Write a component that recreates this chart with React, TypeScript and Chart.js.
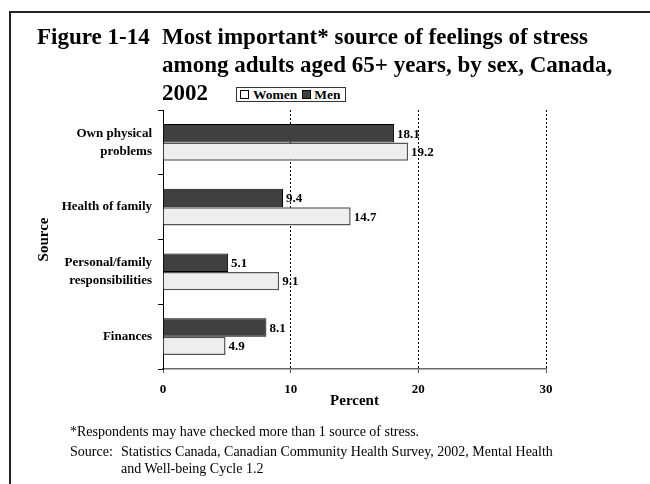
import React, { useEffect, useRef } from "react";
import { Chart, registerables } from "chart.js";

Chart.register(...registerables);

const categories: string[][] = [
  ["Own physical", "problems"],
  ["Health of family"],
  ["Personal/family", "responsibilities"],
  ["Finances"],
];
const menValues = [18.1, 9.4, 5.1, 8.1];
const womenValues = [19.2, 14.7, 9.1, 4.9];
const xMin = 0;
const xMax = 30;
const xStep = 10;

const SERIF = '"Liberation Serif", "Times New Roman", serif';

const valueLabels = {
  id: "valueLabels",
  afterDatasetsDraw(chart: any) {
    const ctx = chart.ctx;
    ctx.save();
    ctx.font = `bold 13px ${SERIF}`;
    ctx.fillStyle = "#000";
    ctx.textBaseline = "middle";
    ctx.textAlign = "left";
    chart.data.datasets.forEach((ds: any, di: number) => {
      chart.getDatasetMeta(di).data.forEach((bar: any, i: number) => {
        ctx.fillText(Number(ds.data[i]).toFixed(1), bar.x + 3, bar.y + 1);
      });
    });
    ctx.restore();
  },
};

function ChartCanvas() {
  const ref = useRef<HTMLCanvasElement | null>(null);
  useEffect(() => {
    if (!ref.current) return;
    const chart = new Chart(ref.current, {
      type: "bar",
      data: {
        labels: categories,
        datasets: [
          {
            label: "Men",
            data: menValues,
            backgroundColor: "#404040",
            borderColor: "#000000",
            borderWidth: 1,
            categoryPercentage: 0.57,
            barPercentage: 1.0,
          },
          {
            label: "Women",
            data: womenValues,
            backgroundColor: "#eeeeee",
            borderColor: "#555555",
            borderWidth: 1.5,
            categoryPercentage: 0.57,
            barPercentage: 1.0,
          },
        ],
      },
      options: {
        indexAxis: "y",
        responsive: false,
        animation: false,
        devicePixelRatio: 1,
        layout: { padding: { left: 0, top: 110, right: 104, bottom: 73 } },
        plugins: {
          legend: { display: false },
          tooltip: { enabled: false },
          title: { display: false },
        },
        scales: {
          x: {
            type: "linear",
            min: xMin,
            max: xMax,
            ticks: {
              stepSize: xStep,
              color: "#000",
              padding: 9,
              font: { family: SERIF, size: 13, weight: "bold" },
            },
            grid: {
              color: (c: any) => (c.tick && c.tick.value === 0 ? "rgba(0,0,0,0)" : "#000"),
              tickColor: "#555",
              tickLength: 4,
              lineWidth: 1,
            },
            border: { color: "#6a6a6a", width: 1.5, dash: [2, 2] },
            title: {
              display: true,
              text: "Percent",
              color: "#000",
              font: { family: SERIF, size: 15, weight: "bold" },
              padding: { top: 0, bottom: 1 },
            },
            afterFit: (s: any) => {
              s.height = 42;
            },
          },
          y: {
            type: "category",
            ticks: {
              color: "#000",
              padding: 6,
              font: { family: SERIF, size: 13, weight: "bold", lineHeight: 1.36 },
            },
            grid: {
              offset: true,
              drawOnChartArea: false,
              tickLength: 5,
              color: "#000",
              tickColor: "#000",
            },
            border: { color: "#000", width: 1 },
            title: {
              display: true,
              text: "Source",
              color: "#000",
              font: { family: SERIF, size: 15, weight: "bold" },
              padding: { top: 35, bottom: 0 },
            },
            afterFit: (s: any) => {
              s.width = 163;
            },
          },
        },
      },
      plugins: [valueLabels],
    } as any);
    return () => chart.destroy();
  }, []);
  return <canvas ref={ref} width={650} height={484} style={{ display: "block", width: 650, height: 484 }} />;
}

const abs = (o: React.CSSProperties): React.CSSProperties => ({ position: "absolute", whiteSpace: "nowrap", ...o });

export default function App() {
  const titleFont: React.CSSProperties = { fontFamily: SERIF, fontWeight: "bold", fontSize: 23, lineHeight: "28px", color: "#000" };
  const noteFont: React.CSSProperties = { fontFamily: SERIF, fontSize: 14, lineHeight: "17px", color: "#000" };
  return (
    <div style={{ position: "absolute", left: 0, top: 0, width: 650, height: 484, background: "#fff", overflow: "hidden" }}>
      <ChartCanvas />
      <div style={abs({ left: 9, top: 11, width: 641, height: 2, background: "#222" })} />
      <div style={abs({ left: 9, top: 11, width: 2, height: 473, background: "#222" })} />
      <div style={abs({ left: 37, top: 22.5, ...titleFont })}>Figure 1-14</div>
      <div style={abs({ left: 162, top: 22.5, ...titleFont })}>Most important* source of feelings of stress</div>
      <div style={abs({ left: 162, top: 51, ...titleFont })}>among adults aged 65+ years, by sex, Canada,</div>
      <div style={abs({ left: 162, top: 79, ...titleFont })}>2002</div>
      <div
        style={abs({
          left: 236,
          top: 87,
          height: 13,
          padding: "0 4px 0 3px",
          border: "1px solid #333",
          background: "#fff",
          display: "flex",
          alignItems: "center",
          fontFamily: SERIF,
          fontWeight: "bold",
          fontSize: 13.5,
          lineHeight: "13px",
        })}
      >
        <span style={{ display: "inline-block", width: 7, height: 7, border: "1px solid #000", background: "#fff", marginRight: 4 }} />
        <span>Women</span>
        <span style={{ display: "inline-block", width: 7, height: 7, border: "1px solid #000", background: "#404040", marginLeft: 5, marginRight: 3 }} />
        <span>Men</span>
      </div>
      <div style={abs({ left: 70, top: 423, ...noteFont })}>*Respondents may have checked more than 1 source of stress.</div>
      <div style={abs({ left: 70, top: 443, ...noteFont })}>Source:</div>
      <div style={abs({ left: 121, top: 443, ...noteFont })}>Statistics Canada, Canadian Community Health Survey, 2002, Mental Health</div>
      <div style={abs({ left: 121, top: 460, ...noteFont })}>and Well-being Cycle 1.2</div>
    </div>
  );
}
